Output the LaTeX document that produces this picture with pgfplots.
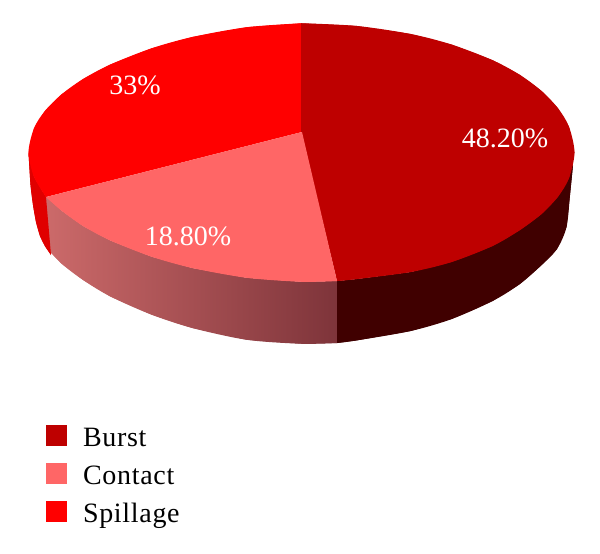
\documentclass[border=0pt]{standalone}
\usepackage{fontspec}
\setmainfont{Liberation Serif}
\usepackage{pgfplots}
\pgfplotsset{compat=1.18}

\definecolor{burst}{HTML}{BE0000}
\definecolor{contact}{HTML}{FF6666}
\definecolor{spillage}{HTML}{FF0000}
\definecolor{burstside}{HTML}{400000}
\definecolor{spillageside}{HTML}{E00000}
\definecolor{contactl}{HTML}{CC6A6A}
\definecolor{contactr}{HTML}{7E343A}

\pgfplotsset{
  slice/.style={draw=none, no markers, forget plot},
  swatch/.style={legend image code/.code={
    \fill[##1] (0pt,-6pt) rectangle (21pt,15pt);}},
}

\begin{document}
\begin{tikzpicture}
\begin{axis}[
  scale only axis, width=600pt, height=554pt,
  xmin=0, xmax=600, ymin=0, ymax=554, y dir=reverse,
  hide axis,
  legend cell align=left,
  legend style={draw=none, fill=none, at={(axis description cs:0.0767,0.0442)},
    anchor=south west, inner sep=0pt, outer sep=0pt,
    row sep=9.5pt, column sep=16pt,
    font=\fontsize{28}{28}\selectfont\addfontfeature{LetterSpace=2.5},
    nodes={inner sep=0pt, text height=20pt, text depth=7pt}},
]
% page background
\addplot[draw=none, fill=white, forget plot] coordinates {(0,0)(600,0)(600,554)(0,554)} -- cycle;

% contact wall, its left end goes under the spillage wall
\addplot[slice, left color=contactl, right color=contactr] coordinates {
  (44.9,194)(61.3,210.4)(83.1,226)(110.4,240.5)(151.4,256.6)(192.3,268)(246.9,277.8)(301.5,281.75)(337,281)
  (337,343)(301.5,343.75)(246.9,339.8)(192.3,328)(151.4,314.6)(110.4,296.5)(83.1,280)(61.3,263.4)(44.9,246)};
\addplot[slice, smooth, left color=contactl, right color=contactr] coordinates {
  (337,343)(301.5,343.75)(246.9,339.8)(192.3,328)(151.4,314.6)(110.4,296.5)(83.1,280)(61.3,263.4)(44.9,246)};

% burst wall
\addplot[slice, fill=burstside] coordinates {
  (337,281)(356.1,279.1)(410.7,272)(451.7,262)(492.6,246)(519.9,230.1)(541.7,213.9)(558.1,196.6)(569,178.2)(573,165)
  (570,195)(566.5,227)(557,249)(541.7,265)(519.9,284)(492.6,301)(451.7,319)(410.7,331)(356.1,340.5)(337,343)};
\addplot[slice, smooth, fill=burstside] coordinates {
  (337,343)(356.1,340.5)(410.7,331)(451.7,319)(492.6,301)(519.9,284)(541.7,265)(557,249)(566.5,227)(570,195)(573,165)};

% spillage wall
\addplot[slice, fill=spillageside] coordinates {
  (28.5,152.5)(34,176.8)(46,197)(51,255)(44.9,246)(40,236)(36,222)(33,205)(30.5,185)};
\addplot[slice, smooth, fill=spillageside] coordinates {
  (51,255)(44.9,246)(40,236)(36,222)(33,205)(30.5,185)(28.5,152.5)};

% top faces
\addplot[slice, fill=spillage] coordinates {
  (302,132)(302,23.25)(246.9,27.2)(192.3,37)(151.4,48.4)(110.4,64.5)(83.1,79)(61.3,94.6)(44.9,111)(34,128.3)(28.5,152.5)(34,176.8)(46,197)};
\addplot[slice, smooth, fill=spillage] coordinates {
  (302,23.25)(246.9,27.2)(192.3,37)(151.4,48.4)(110.4,64.5)(83.1,79)(61.3,94.6)(44.9,111)(34,128.3)(28.5,152.5)(34,176.8)(46,197)};
\addplot[slice, fill=burst] coordinates {
  (301,132)(301,23.25)(356.1,25.9)(410.7,34)(451.7,44.6)(492.6,60.2)(519.9,74.9)(541.7,91.1)(558.1,108.4)(569,126.8)(574.5,152.5)(569,178.2)(558.1,196.6)(541.7,213.9)(519.9,230.1)(492.6,246)(451.7,262)(410.7,272)(356.1,279.1)(337,281)};
\addplot[slice, smooth, fill=burst] coordinates {
  (301,23.25)(356.1,25.9)(410.7,34)(451.7,44.6)(492.6,60.2)(519.9,74.9)(541.7,91.1)(558.1,108.4)(569,126.8)(574.5,152.5)(569,178.2)(558.1,196.6)(541.7,213.9)(519.9,230.1)(492.6,246)(451.7,262)(410.7,272)(356.1,279.1)(337,281)};
\addplot[slice, fill=contact] coordinates {
  (302,132)(337,281)(301.5,281.75)(246.9,277.8)(192.3,268)(151.4,256.6)(110.4,240.5)(83.1,226)(61.3,210.4)(46,197)};
\addplot[slice, smooth, fill=contact] coordinates {
  (337,281)(301.5,281.75)(246.9,277.8)(192.3,268)(151.4,256.6)(110.4,240.5)(83.1,226)(61.3,210.4)(46,197)};

% percentages
\node[white, anchor=base, font=\fontsize{28}{28}\selectfont] at (axis cs:505,147) {48.20\%};
\node[white, anchor=base, font=\fontsize{28}{28}\selectfont] at (axis cs:188,245) {18.80\%};
\node[white, anchor=base, font=\fontsize{28}{28}\selectfont] at (axis cs:135,94) {33\%};

\addlegendimage{swatch, fill=burst, draw=none}
\addlegendentry{Burst}
\addlegendimage{swatch, fill=contact, draw=none}
\addlegendentry{Contact}
\addlegendimage{swatch, fill=spillage, draw=none}
\addlegendentry{Spillage}
\end{axis}
\end{tikzpicture}
\end{document}
